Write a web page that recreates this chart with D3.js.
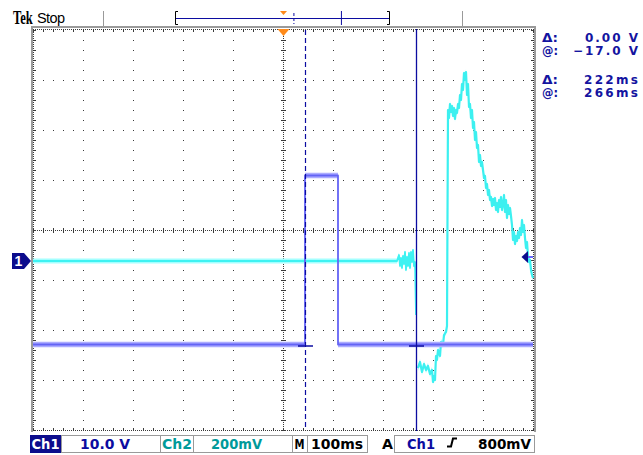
<!DOCTYPE html>
<html><head><meta charset="utf-8">
<script src="https://cdn.jsdelivr.net/npm/d3@7"></script>
<style>html,body{margin:0;padding:0;background:#fff;}svg{display:block;}</style>
</head><body><svg id="c" width="643" height="455"></svg>
<script>
// ---------- data ----------
// Channel 1 (cyan, 10 V/div): time in ms, value in volts
const ch1TimesA = [-500, 228, 232, 234, 236, 238, 240, 242, 244, 246, 248, 250, 252, 254, 256, 258, 260, 262, 264, 266];
const ch1VoltsA = [0, 0, 1.2, -1.0, 0.6, -1.4, 1.0, -0.6, 1.8, -1.8, 0.8, -1.0, 1.6, -1.4, 1.8, -0.2, 2.2, -1.0, -0.2, -10.8];
const ch1TimesB = [270, 274, 278, 282, 286, 290, 294, 298, 300, 302, 304, 306, 308, 310, 314, 316, 320, 322, 326, 328];
const ch1VoltsB = [-21.4, -20.2, -22.2, -20.6, -21.8, -21.0, -22.6, -21.8, -24.2, -23.0, -23.8, -19.0, -19.8, -17.8, -19.0, -16.2, -16.8, -14.8, -14.2, -13.0];
const ch1TimesC = d3.range(330, 501, 2);
const ch1VoltsC = [30.2, 28.6, 31.4, 29.8, 31.0, 29.0, 30.6, 28.4, 30.2, 29.6,
  31.4, 30.6, 33.2, 32.2, 35.4, 34.2, 37.6, 36.2, 37.8, 33.2,
  35.4, 30.8, 31.4, 28.6, 30.2, 26.6, 27.8, 24.2, 25.8, 22.6,
  23.2, 19.8, 21.2, 19.0, 19.8, 18.2, 16.6, 17.0, 14.6, 15.4,
  13.2, 14.2, 12.2, 12.8, 11.0, 12.4, 11.2, 12.6, 10.2, 11.6,
  9.8, 12.2, 10.8, 12.8, 10.2, 11.4, 13.2, 9.8, 12.2, 8.6,
  11.2, 9.4, 10.6, 9.0, 7.2, 4.2, 5.8, 3.4, 5.0, 4.0,
  5.8, 4.6, 6.6, 5.2, 8.2, 5.8, 7.2, 4.6, 2.6, 3.8,
  1.0, -0.2, 0.2, -1.8, -2.8, -3.4];
// Channel 2 (blue, 200 mV/div)
const ch2Times = [-500, 44, 44, 110, 110, 500];
const ch2Volts = [0, 0, 0.676, 0.676, 0, 0];
// cursors / trigger
const cursorTimes = [44, 266];
const cursorVolt = -17.0;
const triggerTime = 0;
const triggerLevel = 0.8;
// readouts
const readLabels = ["Δ:", "@:", "Δ:", "@:"];
const readValues = ["0.00 V", "\u221217.0 V", "222ms", "266ms"];

// ---------- scales ----------
const svg = d3.select("#c");
const X0 = 33, X1 = 533, Y0 = 29, Y1 = 430;
const x = d3.scaleLinear().domain([-500, 500]).range([X0, X1]);
const y1 = d3.scaleLinear().domain([0, 10]).range([261, 211]);
const y2 = d3.scaleLinear().domain([0, 0.2]).range([344.5, 294.5]);
const rec = d3.scaleLinear().domain([-500, 500]).range([177, 391]);

// ---------- header ----------
svg.append("text").attr("transform", "translate(13,24) scale(0.7,1)").attr("font-family", "Liberation Serif, serif")
  .attr("font-weight", "bold").attr("font-size", 18).attr("fill", "#000").text("Tek");
svg.append("text").attr("x", 37).attr("y", 23).attr("font-family", "Liberation Sans, Arial, sans-serif")
  .attr("font-size", 14.5).attr("fill", "#000").attr("textLength", 28).text("Stop");
svg.append("rect").attr("x", 103).attr("y", 11).attr("width", 1).attr("height", 16).attr("fill", "#9a9a9a");
svg.append("rect").attr("x", 462).attr("y", 11).attr("width", 1).attr("height", 16).attr("fill", "#9a9a9a");
// record bar
const navy = "#0c0ca0";
svg.append("path").attr("d", "M178,11.5 H175.5 V24.5 H178").attr("fill", "none").attr("stroke", "#000").attr("stroke-width", 1);
svg.append("path").attr("d", "M387,11.5 H389.5 V24.5 H387").attr("fill", "none").attr("stroke", "#000").attr("stroke-width", 1);
svg.append("line").attr("x1", 176).attr("x2", 389).attr("y1", 18.5).attr("y2", 18.5).attr("stroke", navy).attr("stroke-width", 1.2);
svg.append("line").attr("x1", rec(cursorTimes[0]) + 0.5).attr("x2", rec(cursorTimes[0]) + 0.5).attr("y1", 13).attr("y2", 24)
  .attr("stroke", navy).attr("stroke-dasharray", "3,2");
svg.append("line").attr("x1", rec(cursorTimes[1]) + 0.5).attr("x2", rec(cursorTimes[1]) + 0.5).attr("y1", 11).attr("y2", 25)
  .attr("stroke", navy);
const tx0 = rec(triggerTime) - 1;
svg.append("path").attr("d", `M${tx0 - 3},11 H${tx0 + 4} L${tx0 + 0.5},15 Z`).attr("fill", "#ff8a1a");

// ---------- frame & graticule ----------
svg.append("rect").attr("x", 31).attr("y", 26).attr("width", 505).attr("height", 2).attr("fill", "#9a9a9a");
svg.append("rect").attr("x", 31).attr("y", 26).attr("width", 2).attr("height", 406).attr("fill", "#9a9a9a");
svg.append("rect").attr("x", 534).attr("y", 26).attr("width", 2).attr("height", 406).attr("fill", "#9a9a9a");
const g = svg.append("g").attr("fill", "#3a3a3a");
function dot(px, py, w = 1, h = 1) { g.append("rect").attr("x", px).attr("y", py).attr("width", w).attr("height", h); }
const cx = 283, cy = 230;
for (let i = 1; i < 10; i++) { if (i === 5) continue; const X = 33 + 50 * i; for (let yy = 30; yy <= 430; yy += 10) dot(X, yy); }
for (let j = 1; j < 8; j++) { if (j === 4) continue; const Y = 30 + 50 * j; for (let xx = 33; xx <= 533; xx += 10) dot(xx, Y); }
for (let yy = 30; yy <= 430; yy += 2) { dot(cx, yy); dot(X0, yy); dot(X1, yy); }
for (let yy = 30; yy <= 430; yy += 10) { dot(cx - 2, yy, 5, 1); dot(X0, yy, 3, 1); dot(X1 - 2, yy, 3, 1); }
for (let xx = 33; xx <= 533; xx += 2) { dot(xx, cy); dot(xx, Y0); dot(xx, Y1); }
for (let xx = 33; xx <= 533; xx += 10) { dot(xx, cy - 2, 1, 5); dot(xx, Y0, 1, 3); dot(xx, Y1 - 2, 1, 3); }

// ---------- traces ----------
function pts(ts, vs) { return ts.map((t, i) => ({ t, v: vs[i] })); }
function drawTrace(data, ys, amp, band, core, w) {
  svg.append("path").datum(data).attr("fill", band).attr("stroke", "none")
    .attr("d", d3.area().x(d => x(d.t)).y0(d => ys(d.v - amp)).y1(d => ys(d.v + amp)));
  svg.append("path").datum(data).attr("fill", "none").attr("stroke", core).attr("stroke-width", w)
    .attr("stroke-linejoin", "round").attr("d", d3.line().x(d => x(d.t)).y(d => ys(d.v)));
}
drawTrace(pts(ch1TimesA, ch1VoltsA), y1, 0.5, "#a4ffff", "#3ef2f2", 1.8);
drawTrace(pts(ch1TimesB.concat(ch1TimesC), ch1VoltsB.concat(ch1VoltsC)), y1, 0.6, "#a4ffff", "#3cf0f0", 2.2);
drawTrace(pts(ch2Times, ch2Volts), y2, 0.011, "#acacff", "#6464f5", 1.8);

// ---------- cursors ----------
svg.append("line").attr("x1", x(cursorTimes[0]) + 0.5).attr("x2", x(cursorTimes[0]) + 0.5).attr("y1", 30).attr("y2", 430)
  .attr("stroke", navy).attr("stroke-width", 1.2).attr("stroke-dasharray", "5,3");
svg.append("line").attr("x1", x(cursorTimes[1]) + 0.5).attr("x2", x(cursorTimes[1]) + 0.5).attr("y1", 29).attr("y2", 431)
  .attr("stroke", navy).attr("stroke-width", 1.3);
cursorTimes.forEach(t => {
  svg.append("line").attr("x1", x(t) - 7).attr("x2", x(t) + 8).attr("y1", y1(cursorVolt)).attr("y2", y1(cursorVolt))
    .attr("stroke", navy).attr("stroke-width", 1.5);
});

// trigger position marker
const tx = x(triggerTime) + 0.5;
svg.append("path").attr("d", `M${tx - 6},29 H${tx + 6} L${tx},36 Z`).attr("fill", "#ff8a1a");
// trigger level marker
const ty = y1(triggerLevel);
svg.append("line").attr("x1", 527).attr("x2", 533).attr("y1", ty).attr("y2", ty).attr("stroke", "#6a6aff").attr("stroke-width", 2);
svg.append("path").attr("d", `M521.5,${ty} L528,${ty - 6} L528,${ty + 6} Z`).attr("fill", "#0c0c8c");
// ch1 ground marker
const gy = y1(0);
svg.append("path").attr("d", `M12,${gy - 8} H24 L31,${gy} L24,${gy + 8} H12 Z`).attr("fill", "#0c0c8c");
svg.append("text").attr("x", 18.5).attr("y", gy + 5).attr("text-anchor", "middle").attr("fill", "#fff")
  .attr("font-family", "Liberation Sans, Arial, sans-serif").attr("font-weight", "bold").attr("font-size", 14).text("1");

// ---------- readouts ----------
const rf = "DejaVu Sans, Verdana, sans-serif";
const rY = [42, 55, 84, 97];
readLabels.forEach((l, i) => {
  svg.append("text").attr("x", 542).attr("y", rY[i]).attr("font-family", rf).attr("font-weight", "bold")
    .attr("font-size", 12).attr("fill", "#1414a0").attr("textLength", 16).attr("lengthAdjust", "spacingAndGlyphs").text(l);
});
const rW = [53, 65, 54, 54];
readValues.forEach((v, i) => {
  svg.append("text").attr("x", 638 - rW[i]).attr("y", rY[i]).attr("font-family", rf).attr("font-weight", "bold")
    .attr("font-size", 12).attr("fill", "#1414a0").attr("textLength", rW[i]).attr("lengthAdjust", "spacing").text(v);
});

// ---------- status bar ----------
const sb = svg.append("g").attr("font-family", rf).attr("font-size", 13.5).attr("font-weight", "bold");
const boxY = 435, boxH = 17, baseY = 448.5;
function box(x0, x1) { sb.append("rect").attr("x", x0 + 0.5).attr("y", boxY + 0.5).attr("width", x1 - x0).attr("height", boxH).attr("fill", "none").attr("stroke", "#9a9a9a"); }
function txt(s, x0, len, col) { sb.append("text").attr("x", x0).attr("y", baseY).attr("fill", col).attr("textLength", len).attr("lengthAdjust", "spacingAndGlyphs").text(s); }
sb.append("rect").attr("x", 30).attr("y", boxY).attr("width", 31).attr("height", boxH + 1).attr("fill", "#0c0c8c");
txt("Ch1", 31.5, 28, "#fff");
box(61, 160); txt("10.0 V", 80, 50, navy);
box(160, 193); txt("Ch2", 162, 30, "#009a9a");
box(193, 292); txt("200mV", 211, 51, "#009a9a");
box(292, 307); txt("M", 294.5, 10, "#000");
box(307, 367); txt("100ms", 311, 52, "#000");
txt("A", 382, 11, "#000");
box(394, 534); txt("Ch1", 407, 28, navy);
sb.append("path").attr("d", "M447,446.5 H451 L453,438.5 H457").attr("fill", "none").attr("stroke", "#000").attr("stroke-width", 2);
txt("800mV", 478, 53, "#000");
</script></body></html>
